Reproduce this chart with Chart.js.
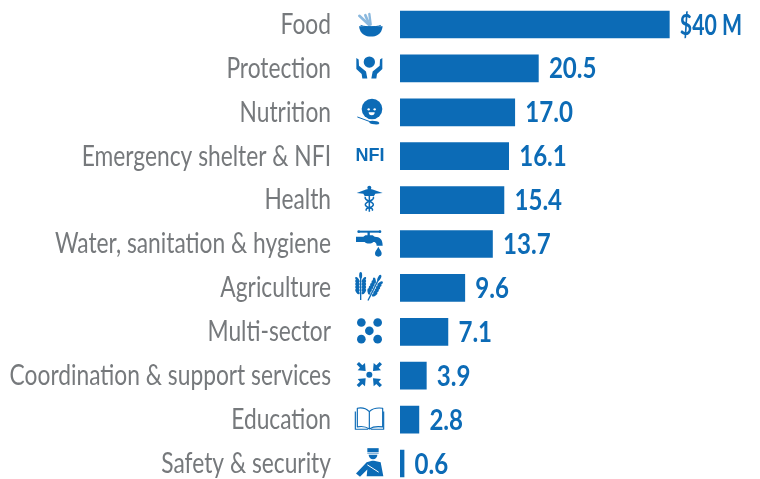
<!DOCTYPE html>
<html><head><meta charset="utf-8">
<style>html,body{margin:0;padding:0;background:#fff;overflow:hidden;width:760px;height:479px}canvas{display:block}</style>
<script src="https://cdn.jsdelivr.net/npm/chart.js@4"></script>
</head><body><canvas id="c" width="760" height="490"></canvas>
<script>
const categories=["Food","Protection","Nutrition","Emergency shelter & NFI","Health","Water, sanitation & hygiene","Agriculture","Multi-sector","Coordination & support services","Education","Safety & security"];
const values=[39.9,20.5,17.0,16.1,15.4,13.7,9.6,7.1,3.9,2.8,0.6];
const valueLabels=["$40 M","20.5","17.0","16.1","15.4","13.7","9.6","7.1","3.9","2.8","0.6"];
const BLUE="#0c6bb6",GREY="#76797c";
const ICON_X=370;
function poly(c,p){c.beginPath();c.moveTo(p[0],p[1]);for(let i=2;i<p.length;i+=2)c.lineTo(p[i],p[i+1]);c.closePath();c.fill();}
function circ(c,x,y,r){c.beginPath();c.arc(x,y,r,0,Math.PI*2);c.fill();}
function line(c,w,p){c.lineWidth=w;c.beginPath();c.moveTo(p[0],p[1]);for(let i=2;i<p.length;i+=2)c.lineTo(p[i],p[i+1]);c.stroke();}
function grainStalk(c,x0,y0,x1,y1,n){
  line(c,4,[x0,y0,x1,y1]);
  const a=Math.atan2(y1-y0,x1-x0);
  for(let i=0;i<n;i++){const t=.28+i*(.6/n),x=x0+(x1-x0)*t,y=y0+(y1-y0)*t;
    for(const s of[-1,1]){c.save();c.translate(x,y);c.rotate(a+s*.6);c.beginPath();c.ellipse(9,s*5.5,9.5,4.4,0,0,Math.PI*2);c.fill();c.restore();}}
  c.beginPath();c.ellipse(x1,y1,4.5,10,a+Math.PI/2,0,Math.PI*2);c.fill();
}
const icons=[
 c=>{c.save();c.strokeStyle="#8ab8de";c.lineCap="round";line(c,8,[-4,0,-32,-26]);line(c,8,[-2,0,-14,-28]);line(c,7,[2,0,-2,-32]);c.restore();
   c.beginPath();c.moveTo(-33,5);c.bezierCurveTo(-30,30,-12,36,3,36);c.bezierCurveTo(18,36,35,30,38,5);c.closePath();c.fill();
   c.lineWidth=3;c.beginPath();c.ellipse(2,-1,34,8,0,Math.PI*.85,Math.PI*2.15,true);c.stroke();},
 c=>{circ(c,-2,-19,17);
   for(const m of[1,-1]){c.save();c.translate(-2,0);c.scale(m,1);
   c.beginPath();c.moveTo(-39,-31);c.lineTo(-32,-27);c.lineTo(-31,-8);c.lineTo(-10,9);c.lineTo(-6,30);c.lineTo(-21,30);c.lineTo(-23,17);c.lineTo(-39,2);c.closePath();c.fill();c.restore();}},
 c=>{circ(c,6,-10,31);c.fillStyle="#fff";circ(c,-4,-9,3.5);circ(c,14,-9,3.5);
   c.beginPath();c.arc(5,0,9,0,Math.PI);c.fill();c.fillStyle=BLUE;
   line(c,3,[-38,14,0,28]);c.beginPath();c.ellipse(13,31,15,5,.1,0,Math.PI*2);c.fill();},
 c=>{c.save();c.scale(3,3);c.font="bold 18px 'Liberation Sans'";c.textAlign="center";c.textBaseline="middle";c.fillText("NFI",0,0);c.restore();},
 c=>{poly(c,[-2,-34,8,-32,38,-21,16,-19,12,-12,-16,-12,-20,-19,-40,-21,-12,-32]);circ(c,-2,-37,6);
   line(c,4.5,[-2,-38,-2,35]);c.lineWidth=4.5;c.beginPath();c.moveTo(-14,-10);c.bezierCurveTo(-20,2,12,4,10,14);c.bezierCurveTo(8,26,-16,20,-11,32);c.stroke();
   c.beginPath();c.moveTo(10,-10);c.bezierCurveTo(16,2,-16,4,-14,14);c.bezierCurveTo(-12,26,12,20,7,32);c.stroke();},
 c=>{line(c,6,[-34,-37,30,-37]);circ(c,-34,-37,4);circ(c,30,-37,4);line(c,7,[-4,-37,-4,-20]);
   c.beginPath();c.moveTo(-42,-22);c.lineTo(-20,-22);c.lineTo(-14,-26);c.lineTo(8,-26);c.lineTo(14,-22);c.bezierCurveTo(30,-22,38,-14,38,5);c.lineTo(20,5);c.bezierCurveTo(20,-4,14,-6,10,-6);c.bezierCurveTo(4,0,-10,0,-16,-6);c.lineTo(-42,-6);c.closePath();c.fill();
   c.beginPath();c.moveTo(25,8);c.bezierCurveTo(30,18,35,22,35,28);c.arc(25,28,10,0,Math.PI);c.bezierCurveTo(15,22,20,18,25,8);c.fill();},
 c=>{grainStalk(c,-28,36,-28,-38,5);grainStalk(c,-6,38,28,-30,5);},
 c=>{for(const[x,y]of[[-26,-28],[23,-28],[-2,-3],[-26,22],[23,22]])circ(c,x,y,13);},
 c=>{c.translate(-2,-3);circ(c,0,0,9);
   for(let i=0;i<4;i++){c.save();c.rotate(i*Math.PI/2);
   poly(c,[-38,-31,-31,-38,-21,-28,-13,-35,-11,-11,-35,-13,-28,-21]);c.restore();}},
 c=>{c.lineWidth=3.5;c.lineJoin="round";c.beginPath();c.moveTo(-2,-24);c.bezierCurveTo(-14,-36,-28,-36,-38,-34);c.lineTo(-38,22);c.bezierCurveTo(-28,20,-14,20,-2,28);c.bezierCurveTo(10,20,24,20,38,22);c.lineTo(38,-34);c.bezierCurveTo(24,-36,10,-36,-2,-24);c.closePath();c.moveTo(-2,-24);c.lineTo(-2,28);c.stroke();
   line(c,3.5,[-44,-24,-44,29,-6,29]);line(c,3.5,[2,29,41,29,41,-24]);},
 c=>{poly(c,[-8,-46,26,-46,26,-34,-8,-34]);poly(c,[-8,-32,26,-32,26,-30,-8,-30]);c.beginPath();c.arc(9,-26,13,0,Math.PI);c.fill();
   c.beginPath();c.moveTo(-42,30);c.lineTo(-10,-4);c.lineTo(6,-8);c.lineTo(12,-8);c.lineTo(32,-4);c.lineTo(40,38);c.lineTo(-10,38);c.lineTo(-8,18);c.lineTo(-30,40);c.closePath();c.fill();
   c.strokeStyle="#fff";line(c,3,[-8,4,26,26]);}
];
const LABEL_SX=.785,VALUE_SX=.86,FIRST_VALUE_SX=.76;
const overlay={id:"overlay",afterDatasetsDraw(ch){
  const c=ch.ctx,y=ch.scales.y,bars=ch.getDatasetMeta(0).data;
  c.save();c.textBaseline="middle";
  categories.forEach((t,i)=>{
    const py=y.getPixelForTick(i);
    c.save();c.fillStyle=GREY;c.textAlign="right";c.translate(331,py);c.scale(LABEL_SX,1);
    c.font="400 29px Lato";c.fillText(y.getLabelForValue(i),0,0);c.restore();
    c.save();c.fillStyle=BLUE;c.strokeStyle=BLUE;c.translate(ICON_X,py);c.scale(1/3,1/3);icons[i](c);c.restore();
    c.save();c.fillStyle=BLUE;c.textAlign="left";c.translate(bars[i].x+10.5,py+1);c.scale(i===0?FIRST_VALUE_SX:VALUE_SX,1);
    c.font="700 28px Lato";c.fillText(valueLabels[i],0,0);c.restore();
  });
  c.restore();
}};
new Chart(document.getElementById("c"),{type:"bar",
 data:{labels:categories,datasets:[{data:values,backgroundColor:BLUE,barThickness:27,borderWidth:0}]},
 options:{indexAxis:"y",responsive:false,animation:false,
  layout:{padding:{left:400,right:22.5,top:2.55,bottom:4.55}},
  plugins:{legend:{display:false},tooltip:{enabled:false},title:{display:false}},
  scales:{x:{min:0,max:50,display:false},y:{display:false,type:"category"}}},
 plugins:[overlay]});
</script></body></html>
